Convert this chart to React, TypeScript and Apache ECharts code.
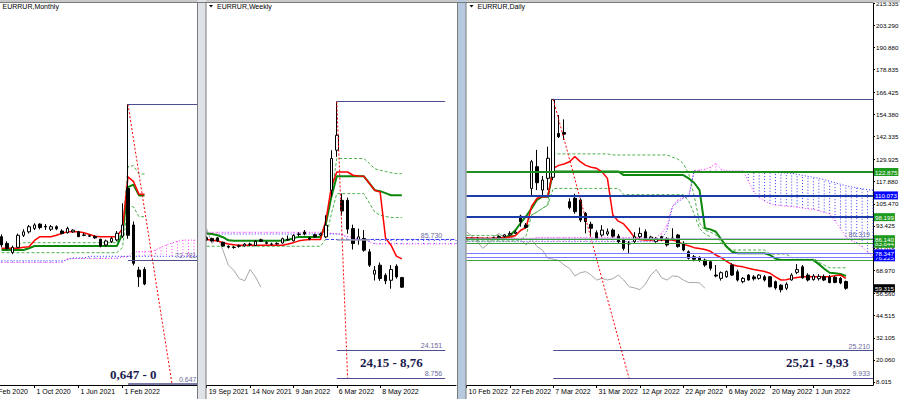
import React, { useEffect, useRef } from 'react';
import * as echarts from 'echarts';

const AX_FONT = "'Liberation Sans', Arial, sans-serif";
const SERIF = "'Liberation Serif', 'Times New Roman', serif";

// ================= MONTHLY =================
const monthlyDates = ['1 Feb 2020', '1 Mar 2020', '1 Apr 2020', '1 May 2020', '1 Jun 2020', '1 Jul 2020', '1 Aug 2020', '1 Sep 2020', '1 Oct 2020', '1 Nov 2020', '1 Dec 2020', '1 Jan 2021', '1 Feb 2021', '1 Mar 2021', '1 Apr 2021', '1 May 2021', '1 Jun 2021', '1 Jul 2021', '1 Aug 2021', '1 Sep 2021', '1 Oct 2021', '1 Nov 2021', '1 Dec 2021', '1 Jan 2022', '1 Feb 2022', '1 Mar 2022', '1 Apr 2022', '1 May 2022', '1 Jun 2022'];
const MONTH_SLOTS = 39;
// [open, close, low, high]
const monthlyCandles: any[] = ['-', '-',
  [86.2, 81.4, 80.0, 87.5], [82.3, 79.4, 78.5, 83.5], [77.0, 80.0, 76.0, 81.0], [80.0, 87.0, 79.5, 88.0],
  [87.0, 89.0, 86.0, 90.5], [89.0, 92.0, 88.0, 93.0], [91.0, 93.0, 90.0, 94.0], [93.5, 91.5, 90.5, 94.0],
  [92.2, 91.8, 90.1, 93.5], [90.5, 92.0, 89.5, 93.0], [92.0, 90.8, 90.0, 92.8], [89.5, 88.0, 87.5, 90.5],
  [88.5, 91.0, 88.0, 92.0], [89.0, 90.0, 88.5, 90.5], [89.0, 86.2, 86.0, 89.5], [87.2, 87.0, 86.5, 88.5],
  [86.7, 86.5, 86.0, 87.5], [86.4, 85.5, 85.0, 87.0], [84.7, 80.8, 80.0, 85.0], [81.4, 83.7, 80.5, 84.5],
  [83.3, 85.2, 82.5, 86.0], [84.3, 88.2, 83.5, 89.5], [86.5, 93.0, 85.5, 105.6], [114.3, 87.0, 85.0, 163.1],
  [93.0, 70.7, 69.5, 95.0], [66.8, 62.9, 57.0, 68.7], [67.2, 58.7, 58.0, 68.5]];
const monthlyTenkan = [null, null, 79.5, 79.5, 79.5, 79.5, 80.0, 80.4, 84.0, 86.2, 86.2, 86.2, 87.0, 88.1, 89.1, 89.1, 89.1, 88.5, 87.5, 86.5, 86.2, 86.2, 86.2, 86.2, 91.0, 121.0, 118.2, 110.8, 110.8];
const monthlyKijun = [null, null, 78.5, 78.5, 78.5, 78.5, 78.5, 79.5, 80.8, 80.8, 80.8, 80.8, 80.8, 80.8, 80.8, 80.8, 80.8, 80.8, 80.8, 80.8, 80.8, 80.8, 80.8, 80.8, 88.0, 115.0, 116.4, 110.2, 110.2];
const monthlyUpper = [null, null, null, null, null, 81.5, 82.7, 82.7, 82.7, 82.7, 82.7, 82.7, 82.7, 82.7, 82.7, 82.7, 82.7, 82.7, 82.7, 82.7, 82.7, 82.7, 82.7, 82.7, 90.0, 126.9, 127.5, 122.6, 122.6];
const monthlyLower = [null, null, 76.9, 76.9, 76.9, 76.9, 76.9, 76.9, 76.9, 76.9, 76.9, 76.9, 76.9, 76.9, 76.9, 76.9, 76.9, 76.9, 76.9, 76.9, 76.9, 76.9, 76.9, 76.9, 80.0, 104.6, 103.5, 97.8, 97.8];
const monthlySpanA = [null, null, 71.2, 71.2, 71.2, 71.2, 71.2, 71.2, 71.2, 71.2, 71.2, 71.2, 71.2, 71.2, 73.5, 73.5, 73.5, 73.5, 73.5, 73.5, 73.5, 73.5, 73.5, 73.5, 74.5, 74.5, 77.5, 77.5, 77.5, 77.5, 78.5, 80.0, 81.5, 82.5, 83.5, 84.2, 84.2, 84.2, 84.2];
const monthlySpanB = [null, null, 72.2, 72.2, 72.2, 72.2, 72.2, 72.2, 72.2, 72.2, 72.2, 72.2, 72.2, 72.2, 72.8, 73.8, 73.8, 73.8, 74.8, 74.8, 74.8, 74.8, 74.8, 74.8, 74.8, 74.8, 74.8, 74.8, 74.8, 74.8, 74.8, 74.8, 74.8, 74.8, 74.8, 74.8, 74.8, 74.8, 74.8];
const monthlyHigh = 163.1;
const monthlyLevels = [72.781, 0.647];

// ================= WEEKLY =================
const weeklyDates = ['19 Sep 2021', '26 Sep 2021', '3 Oct 2021', '10 Oct 2021', '17 Oct 2021', '24 Oct 2021', '31 Oct 2021', '7 Nov 2021', '14 Nov 2021', '21 Nov 2021', '28 Nov 2021', '5 Dec 2021', '12 Dec 2021', '19 Dec 2021', '26 Dec 2021', '2 Jan 2022', '9 Jan 2022', '16 Jan 2022', '23 Jan 2022', '30 Jan 2022', '6 Feb 2022', '13 Feb 2022', '20 Feb 2022', '27 Feb 2022', '6 Mar 2022', '20 Mar 2022', '27 Mar 2022', '3 Apr 2022', '10 Apr 2022', '17 Apr 2022', '24 Apr 2022', '1 May 2022', '8 May 2022', '15 May 2022', '22 May 2022', '29 May 2022', '5 Jun 2022'];
const WEEK_SLOTS = 47;
const weeklyCandles = [
  [86.8, 85.5, 85.0, 87.5], [86.3, 84.9, 84.5, 86.8], [86.6, 84.9, 84.3, 87.0], [84.2, 82.2, 81.8, 84.6],
  [81.8, 81.5, 80.8, 82.5], [81.4, 81.3, 80.6, 82.2], [82.0, 82.2, 81.2, 83.0], [82.2, 83.2, 81.8, 83.8],
  [83.0, 83.2, 82.2, 84.0], [82.4, 84.8, 82.0, 85.3], [85.6, 84.8, 84.4, 86.2], [84.0, 83.6, 83.0, 84.8],
  [83.2, 83.1, 82.4, 84.0], [83.3, 83.6, 82.8, 84.2], [83.8, 86.2, 83.4, 86.8], [85.6, 85.8, 85.0, 88.0],
  [85.0, 88.0, 84.6, 88.6], [88.5, 88.7, 87.6, 89.8], [89.9, 88.8, 88.0, 91.0], [86.4, 86.0, 85.3, 87.3],
  [88.4, 87.2, 86.8, 89.0], [88.2, 88.9, 87.8, 89.5], [87.2, 93.7, 86.5, 99.2], [113.1, 130.7, 109.4, 135.3],
  [135.3, 143.6, 131.6, 162.3], [107.5, 101.6, 99.0, 111.2], [107.5, 91.5, 89.0, 109.0], [91.8, 83.5, 80.2, 94.0],
  [85.5, 87.2, 82.9, 91.8], [86.3, 79.8, 79.0, 91.0], [78.9, 71.5, 70.5, 80.5], [66.5, 68.7, 63.0, 71.0],
  [71.5, 64.1, 62.8, 73.0], [65.9, 62.8, 61.0, 67.0], [63.1, 69.1, 58.4, 71.5], [70.9, 65.0, 64.0, 72.0],
  [64.6, 59.3, 58.8, 65.0]];
const weeklyTenkan = [85.7, 85.3, 84.9, 84.0, 83.2, 82.8, 82.6, 82.6, 82.6, 82.6, 82.6, 82.6, 82.6, 82.6, 82.6, 83.2, 84.0, 85.0, 85.5, 85.7, 85.7, 85.7, 96.4, 114.9, 123.2, 123.2, 123.2, 121.4, 121.0, 120.8, 117.0, 113.1, 112.1, 86.5, 82.6, 76.5, 75.0];
const weeklyKijun = [89.1, 88.8, 88.1, 87.0, 85.3, 85.0, 85.0, 85.0, 85.0, 85.0, 85.0, 85.0, 85.0, 85.0, 85.0, 85.5, 86.5, 87.2, 87.2, 87.2, 87.2, 87.2, 94.6, 109.4, 120.8, 120.8, 120.8, 120.8, 120.8, 120.8, 117.0, 113.1, 112.6, 111.5, 110.3, 110.3, 110.3];
const weeklyUpper = [null, null, null, null, null, null, null, null, null, null, null, null, null, null, null, null, null, null, null, null, null, null, null, 110.0, 130.7, 130.7, 130.7, 130.7, 130.7, 130.7, 128.0, 125.0, 124.2, 123.5, 122.8, 122.3, 122.3];
const weeklyLower = [82.0, 82.0, 82.0, 82.0, 82.0, 82.0, 82.0, 82.0, 82.0, 82.0, 82.0, 82.0, 82.0, 82.0, 82.0, 82.0, 82.0, 82.0, 82.0, 82.0, 82.0, 82.0, 86.0, 100.0, 111.2, 111.2, 111.2, 111.2, 111.2, 111.2, 106.0, 101.0, 99.2, 98.5, 98.0, 97.9, 97.9];
const weeklySpanA = [89.8, 89.8, 89.8, 89.8, 89.8, 89.8, 89.8, 89.8, 89.8, 89.8, 89.8, 89.8, 89.8, 89.8, 89.8, 89.8, 89.8, 89.8, 89.8, 89.8, 89.8, 89.8, 89.5, 89.2, 89.0, 88.2, 87.5, 86.7, 86.0, 85.7, 84.5, 83.3, 83.3, 83.3, 83.3, 83.3, 83.3, 83.3, 83.3, 83.3, 83.3, 83.3, 83.3, 83.3, 83.3, 83.3, 83.3];
const weeklySpanB = [88.8, 88.8, 88.8, 88.8, 88.8, 88.8, 88.8, 88.8, 88.8, 88.8, 88.8, 88.8, 88.8, 88.8, 88.8, 88.8, 88.8, 88.8, 88.8, 88.8, 88.8, 88.8, 88.8, 88.8, 88.8, 88.8, 85.8, 85.8, 85.8, 85.8, 85.8, 85.8, 85.8, 85.8, 85.8, 85.8, 85.8, 85.8, 85.8, 85.8, 85.8, 85.8, 85.8, 85.8, 85.8, 85.8, 85.8];
const weeklyHigh = 162.3;
const weeklyLevels = [85.73, 24.151, 8.756];

// ================= DAILY =================
const dailyDates = ['10 Feb 2022', '11 Feb 2022', '14 Feb 2022', '15 Feb 2022', '16 Feb 2022', '17 Feb 2022', '18 Feb 2022', '21 Feb 2022', '22 Feb 2022', '24 Feb 2022', '25 Feb 2022', '28 Feb 2022', '1 Mar 2022', '2 Mar 2022', '3 Mar 2022', '4 Mar 2022', '7 Mar 2022', '9 Mar 2022', '10 Mar 2022', '14 Mar 2022', '18 Mar 2022', '23 Mar 2022', '28 Mar 2022', '30 Mar 2022', '31 Mar 2022', '1 Apr 2022', '4 Apr 2022', '5 Apr 2022', '6 Apr 2022', '7 Apr 2022', '8 Apr 2022', '11 Apr 2022', '12 Apr 2022', '13 Apr 2022', '14 Apr 2022', '15 Apr 2022', '18 Apr 2022', '19 Apr 2022', '20 Apr 2022', '21 Apr 2022', '22 Apr 2022', '25 Apr 2022', '26 Apr 2022', '27 Apr 2022', '28 Apr 2022', '29 Apr 2022', '4 May 2022', '5 May 2022', '6 May 2022', '11 May 2022', '12 May 2022', '13 May 2022', '16 May 2022', '17 May 2022', '18 May 2022', '19 May 2022', '20 May 2022', '23 May 2022', '24 May 2022', '25 May 2022', '26 May 2022', '27 May 2022', '30 May 2022', '31 May 2022', '1 Jun 2022', '2 Jun 2022', '3 Jun 2022', '6 Jun 2022', '7 Jun 2022', '8 Jun 2022', '9 Jun 2022'];
const DAY_SLOTS = 76;
const dailyCandles = [
  [86.8, 86.2, 85.8, 87.3], [86.2, 86.6, 85.6, 87.0], [86.6, 86.0, 85.5, 87.4], [86.0, 86.5, 85.7, 87.0],
  [86.5, 86.3, 85.9, 87.2], [86.3, 86.9, 85.9, 87.5], [86.9, 87.6, 86.5, 88.2], [87.6, 88.5, 87.0, 89.0],
  [88.5, 89.3, 88.0, 90.5], [89.3, 90.0, 88.8, 91.0], [98.8, 95.7, 93.0, 99.5], [93.9, 92.6, 92.0, 95.0],
  [113.9, 128.5, 109.5, 129.5], [125.8, 117.0, 113.0, 135.0], [113.0, 118.5, 110.3, 120.7], [119.4, 130.4, 113.0, 136.7],
  [120.0, 162.6, 118.5, 162.6], [144.0, 142.2, 141.5, 154.0], [144.5, 143.6, 140.4, 151.7], [106.6, 103.5, 102.5, 108.5],
  [108.5, 101.2, 100.0, 111.0], [107.6, 96.6, 95.5, 108.5], [100.3, 95.7, 89.3, 101.0], [94.3, 92.1, 87.5, 95.7],
  [89.7, 86.6, 86.0, 91.0], [88.4, 91.1, 87.5, 93.8], [89.0, 90.2, 88.0, 92.0], [91.1, 87.8, 87.0, 92.0],
  [87.8, 84.8, 84.0, 89.0], [85.6, 81.1, 80.0, 86.5], [84.0, 83.5, 78.0, 85.0], [84.8, 87.5, 83.5, 90.0],
  [87.5, 89.3, 86.0, 92.5], [90.2, 86.6, 86.0, 91.5], [86.0, 87.3, 85.5, 88.0], [84.8, 86.6, 84.2, 87.2],
  [87.5, 85.7, 85.0, 88.0], [86.6, 83.0, 82.1, 87.2], [86.8, 86.3, 85.5, 92.1], [88.4, 82.1, 81.5, 89.0],
  [83.9, 80.2, 79.5, 85.0], [79.3, 75.7, 75.0, 80.0], [76.5, 75.2, 74.0, 77.5], [76.2, 74.5, 73.8, 76.8],
  [74.7, 72.0, 71.0, 75.5], [73.8, 70.2, 69.0, 74.5], [66.5, 66.0, 65.3, 72.0], [64.7, 67.8, 63.5, 68.5],
  [65.6, 68.4, 65.0, 69.0], [72.0, 66.5, 66.0, 73.0], [68.3, 63.8, 63.0, 69.5], [62.9, 64.7, 62.0, 65.5],
  [66.5, 63.8, 63.5, 67.0], [65.5, 64.5, 63.5, 66.5], [64.7, 66.5, 64.0, 67.0], [65.6, 63.8, 63.0, 66.5],
  [65.6, 60.1, 59.8, 66.0], [62.9, 59.5, 58.5, 63.5], [61.0, 58.5, 57.0, 61.5], [59.3, 61.5, 58.3, 62.5],
  [63.8, 66.5, 63.5, 67.5], [68.0, 69.5, 67.0, 72.5], [71.0, 65.0, 64.5, 72.0], [66.5, 63.8, 63.0, 67.5],
  [64.0, 66.0, 63.5, 67.0], [64.5, 65.8, 63.5, 67.0], [65.6, 63.8, 63.2, 66.8], [65.3, 62.4, 62.0, 66.5],
  [65.3, 62.5, 62.0, 66.0], [64.7, 62.2, 61.5, 65.5], [63.0, 59.3, 58.5, 63.5]];
const dailyTenkan = [86.8, 86.8, 86.8, 86.6, 86.6, 86.6, 86.9, 87.0, 87.3, 88.0, 91.0, 92.5, 104.0, 108.5, 109.4, 109.4, 124.9, 126.5, 127.3, 128.5, 131.3, 128.5, 126.5, 125.5, 124.9, 123.0, 119.4, 99.3, 96.0, 94.5, 91.0, 87.0, 86.0, 85.7, 85.7, 85.7, 85.7, 85.7, 85.7, 84.8, 83.3, 82.5, 81.5, 81.0, 80.5, 79.5, 77.5, 76.0, 74.0, 72.2, 71.5, 71.0, 70.2, 69.5, 69.0, 68.5, 67.5, 65.5, 63.8, 64.0, 64.7, 65.2, 65.6, 65.6, 65.6, 65.6, 65.6, 65.6, 66.2, 66.5, 64.7];
const dailyKijun = [86.3, 86.3, 86.3, 86.3, 86.3, 86.3, 86.3, 86.8, 88.0, 91.0, 95.0, 98.7, 103.0, 107.6, 109.4, 109.4, 123.2, 123.2, 123.2, 123.2, 123.2, 123.2, 123.2, 123.2, 123.2, 123.2, 123.2, 123.2, 123.2, 121.2, 121.2, 121.2, 121.2, 121.2, 121.2, 121.2, 121.2, 121.2, 121.2, 121.2, 121.2, 119.4, 117.0, 113.0, 92.1, 91.5, 90.2, 86.0, 82.0, 79.3, 78.4, 78.4, 78.4, 78.4, 78.4, 78.4, 77.5, 75.5, 74.7, 74.7, 74.7, 74.7, 74.7, 74.7, 74.7, 72.5, 70.0, 67.8, 67.5, 67.1, 66.0];
const dailyUpper = [88.2, 88.2, 88.2, 88.2, 88.2, 88.2, 88.2, 88.2, 88.2, 88.2, 90.5, 94.0, 99.3, 101.0, 103.0, 104.8, 132.8, 132.8, 132.8, 132.8, 132.8, 132.8, 132.8, 132.8, 132.8, 132.8, 132.8, 132.2, 132.2, 132.2, 132.2, 132.2, 132.2, 132.2, 132.2, 132.2, 132.2, 132.2, 131.0, 130.0, 127.5, 122.0, 110.0, 95.0, 91.0, 90.0, 88.5, 84.0, 81.5, 80.2, 80.2, 80.2, 80.2, 80.2, 80.2, 80.2, 78.0, 78.0, 78.0, 78.0, 76.0, 76.0, 76.0, 76.0, 76.0, 73.5, 72.0, 70.5, 70.5, 70.5, 70.5];
const dailyLower = [85.2, 85.2, 85.2, 85.2, 85.2, 85.2, 85.2, 85.2, 85.2, 85.2, 86.0, 88.0, 99.3, 101.0, 103.0, 104.8, 113.9, 113.9, 113.9, 113.9, 113.9, 113.9, 113.9, 113.9, 113.9, 113.9, 113.9, 113.9, 113.9, 110.5, 110.5, 110.5, 110.5, 110.5, 110.5, 110.5, 110.5, 110.5, 110.5, 110.5, 110.5, 107.0, 100.0, 92.0, 89.0, 87.5, null, null, null, null, null, null, null, null, null, null, null, null, null, null, null, null, null, null, null, null, null, null, null, null, null];
const dailySpanA = [86.6, 86.6, 86.6, 86.6, 86.6, 86.6, 86.6, 86.6, 86.6, 86.6, 86.6, 86.6, 86.6, 87.1, 87.1, 87.1, 87.1, 87.1, 87.1, 87.1, 87.1, 87.1, 87.1, 87.1, 87.1, 87.1, 87.1, 87.1, 87.1, 87.1, 87.1, 87.1, 87.1, 87.1, 87.1, 87.1, 89.3, 93.9, 104.0, 107.6, 109.0, 109.4, 123.6, 124.0, 124.4, 125.5, 127.6, 124.4, 123.5, 123.5, 123.5, 123.5, 118.0, 112.0, 109.0, 107.0, 105.5, 104.8, 104.5, 104.2, 104.0, 103.6, 103.2, 102.8, 102.5, 101.7, 100.8, 100.0, 96.0, 92.0, 87.5, 85.5, 84.0, 82.0, 79.0, 76.5];
const dailySpanB = [84.8, 84.8, 84.8, 84.8, 84.8, 84.8, 84.8, 84.8, 84.8, 84.8, 84.8, 84.8, 84.8, 84.8, 84.8, 84.8, 84.8, 84.8, 84.8, 84.8, 84.8, 84.8, 84.8, 84.8, 84.8, 84.8, 84.8, 84.8, 84.8, 84.8, 84.8, 84.8, 84.8, 84.8, 84.8, 84.8, 86.0, 91.0, 104.0, 106.5, 108.5, 109.4, 123.5, 123.2, 123.2, 123.2, 123.2, 123.2, 123.2, 123.2, 123.2, 123.2, 123.0, 122.9, 122.8, 122.7, 122.6, 122.5, 122.4, 122.3, 122.2, 121.6, 121.0, 120.5, 120.0, 119.4, 118.7, 117.8, 117.0, 116.2, 115.3, 114.8, 114.2, 113.7, 113.2, 113.0];
const dailyHigh = 162.6;
const dailyFibo = [25.21, 9.933];
const dailyPriceTicks = [215.335, 203.29, 190.88, 178.835, 166.425, 154.38, 142.335, 129.925, 117.88, 105.47, 93.425, 81.015, 68.97, 56.56, 44.515, 32.105, 20.06, 8.015];
const dailyLastPrice = 59.315;

// ================= helpers =================
const padCats = (a: string[], n: number) => a.concat(Array.from({ length: n - a.length }, (_, i) => 'f' + i));
const chikou = (c: any[], shift: number) => c.map((_, j) => (c[j + shift] ? c[j + shift][1] : null));

const lineS = (k: number, data: any[], color: string, width: number, type: any = 'solid', z = 2) => ({
  type: 'line', xAxisIndex: k, yAxisIndex: k, data, symbol: 'none', showSymbol: false, silent: true,
  lineStyle: { color, width, type }, z, connectNulls: false, animation: false,
});

const hatch = (k: number, A: any[], B: any[]) => ({
  type: 'custom', xAxisIndex: k, yAxisIndex: k, silent: true, z: 1, animation: false,
  data: A.map((a, i) => [i, a, B[i]]).filter((d) => d[1] != null && d[2] != null),
  renderItem: (_p: any, api: any) => {
    const i = api.value(0), a = api.value(1), b = api.value(2);
    const p1 = api.coord([i, a]);
    const p2 = api.coord([i, b]);
    return {
      type: 'line', shape: { x1: p1[0], y1: p1[1], x2: p2[0], y2: p2[1] },
      style: { stroke: b > a ? '#3a3aff' : '#ff4dff', lineWidth: 1, lineDash: [1, 2] },
    };
  },
});

const hLine = (from: number, to: number, v: number, color: string, width: number, label?: any, type: any = 'solid') => {
  const ls = { color, width, type };
  const lb = label ? { show: true, ...label } : { show: false };
  return [{ coord: [from, v], lineStyle: ls, label: lb }, { coord: [to, v], lineStyle: ls, label: lb }];
};
const boxLabel = (text: string, bg: string) => ({
  position: 'end', formatter: text, backgroundColor: bg, color: '#fff', fontSize: 6.2, fontFamily: AX_FONT,
  padding: [1, 1, 0, 1], distance: 1, lineHeight: 7,
});
const innerLabel = (text: string) => ({
  position: 'insideEndTop', formatter: text, color: '#6b6b9c', fontSize: 7, fontFamily: AX_FONT, distance: 1,
  padding: [0, 2, 0, 0],
});

const candleS = (k: number, data: any[], markData: any[]) => ({
  type: 'candlestick', xAxisIndex: k, yAxisIndex: k, data, barWidth: 3, silent: true, z: 3, animation: false,
  itemStyle: { color: '#ffffff', color0: '#000000', borderColor: '#000000', borderColor0: '#000000', borderWidth: 1 },
  markLine: { symbol: ['none', 'none'], silent: true, animation: false, emphasis: { disabled: true }, data: markData },
});

const mkX = (gridIndex: number, cats: string[], n: number) => {
  const show = (i: number) => i % 8 === 0 && i < n;
  return {
    type: 'category', gridIndex, data: cats, boundaryGap: false,
    axisLine: { show: true, lineStyle: { color: '#000', width: 1 } },
    axisTick: { show: true, interval: (i: number) => show(i), length: 3, lineStyle: { color: '#000' } },
    axisLabel: {
      show: true, interval: (i: number) => show(i), align: 'left', margin: 3, padding: [0, 0, 0, 2],
      fontSize: 7, color: '#000', fontFamily: AX_FONT, hideOverlap: false,
    },
    splitLine: { show: false },
  };
};

function buildOption() {
  const SLATE = '#4c4c8e';
  const monthlyMarks = [
    hLine(25, 38, monthlyHigh, SLATE, 1),
    hLine(25, 38, monthlyLevels[0], SLATE, 1, innerLabel('72.781')),
    hLine(25, 38, monthlyLevels[1], SLATE, 1.5, innerLabel('0.647')),
  ];
  const weeklyMarks = [
    hLine(24, 44, weeklyHigh, SLATE, 1),
    hLine(22, 46, weeklyLevels[0], '#3a3aff', 1, undefined, [3, 2]),
    hLine(24, 30, weeklyLevels[0], '#a0a0b0', 1.5),
    hLine(24, 44, weeklyLevels[0], 'rgba(0,0,0,0)', 1, innerLabel('85.730')),
    hLine(24, 44, weeklyLevels[1], SLATE, 1, innerLabel('24.151')),
    hLine(24, 44, weeklyLevels[2], SLATE, 1, innerLabel('8.756')),
  ];
  const GREEN = '#1e9a1e';
  const BLUE = '#0000ff';
  const dailyMarks = [
    hLine(16, 75, dailyHigh, SLATE, 1),
    hLine(16, 75, dailyFibo[0], SLATE, 1, innerLabel('25.210')),
    hLine(16, 75, dailyFibo[1], SLATE, 1, innerLabel('9.933')),
    hLine(0, 75, 122.875, '#1e8f1e', 2, boxLabel('122.875', GREEN)),
    hLine(0, 75, 110.073, '#1c3ca8', 2, boxLabel('110.073', BLUE)),
    hLine(0, 75, 98.199, '#1c3ca8', 2, boxLabel('98.199', GREEN)),
    hLine(0, 75, 86.319, '#a8a8cc', 1.5, innerLabel('86.319')),
    hLine(0, 75, 83.644, '#3aa03a', 1, boxLabel('83.644', GREEN)),
    hLine(0, 75, 86.14, '#3aa03a', 1, boxLabel('86.140', GREEN)),
    hLine(0, 75, 74.7, '#3aa03a', 1),
    hLine(0, 75, 76.225, '#7a7aff', 1, boxLabel('76.225', BLUE)),
    hLine(0, 75, 78.347, '#7a7aff', 1, boxLabel('78.347', BLUE)),
    hLine(70, 75, dailyLastPrice, 'rgba(0,0,0,0)', 1, boxLabel('59.315', '#000')),
  ];

  const RED = '#ff0000';
  const KG = '#0b870b';
  const DG = '#4cb04c';
  const PINK = '#ff33ff';
  const SB = '#3030ff';
  const GRAY = '#a6a6a6';

  const series: any[] = [
    // monthly
    hatch(0, monthlySpanA, monthlySpanB),
    lineS(0, monthlySpanA, PINK, 1, [1, 2]),
    lineS(0, monthlySpanB, SB, 1, [1, 2]),
    lineS(0, monthlyUpper, DG, 1, [3, 2]),
    lineS(0, monthlyLower, DG, 1, [3, 2]),
    lineS(0, monthlyKijun, KG, 2),
    lineS(0, monthlyTenkan, RED, 1.5),
    candleS(0, monthlyCandles, monthlyMarks),
    lineS(0, [[25, monthlyHigh], [33, monthlyLevels[1]]], RED, 1, [2, 2], 4),
    // weekly
    hatch(1, weeklySpanA, weeklySpanB),
    lineS(1, weeklySpanA, PINK, 1, [1, 2]),
    lineS(1, weeklySpanB, SB, 1, [1, 2]),
    lineS(1, chikou(weeklyCandles, 26), GRAY, 1),
    lineS(1, weeklyUpper, DG, 1, [3, 2]),
    lineS(1, weeklyLower, DG, 1, [3, 2]),
    lineS(1, weeklyKijun, KG, 2),
    lineS(1, weeklyTenkan, RED, 1.5),
    candleS(1, weeklyCandles, weeklyMarks),
    lineS(1, [[24, weeklyHigh], [26, weeklyLevels[2]]], RED, 1, [2, 2], 4),
    // daily
    hatch(2, dailySpanA, dailySpanB),
    lineS(2, dailySpanA, PINK, 1, [1, 2]),
    lineS(2, dailySpanB, SB, 1, [1, 2]),
    lineS(2, chikou(dailyCandles, 26), GRAY, 1),
    lineS(2, dailyUpper, DG, 1, [3, 2]),
    lineS(2, dailyLower, DG, 1, [3, 2]),
    lineS(2, dailyKijun, KG, 2),
    lineS(2, dailyTenkan, RED, 1.5),
    candleS(2, dailyCandles, dailyMarks),
    lineS(2, [[16, dailyHigh], [30, dailyFibo[1]]], RED, 1, [2, 2], 4),
  ];

  const frame = '#7a7a7a';
  const txt = (x: number, y: number, text: string, extra: any = {}) => ({
    type: 'text', x, y, z: 120, silent: true,
    style: { text, fontSize: 7, fontFamily: AX_FONT, fill: '#000', verticalAlign: 'middle', textVerticalAlign: 'middle', ...extra },
  });
  const bigTxt = (x: number, y: number, text: string) => txt(x, y, text, { fontSize: 13, fontWeight: 'bold', fontFamily: SERIF, fill: '#1b1b4f' });

  const graphic = [
    { type: 'rect', z: 100, silent: true, shape: { x: 0, y: 0, width: 900, height: 2.5 }, style: { fill: '#c9c9c9' } },
    { type: 'rect', z: 100, silent: true, shape: { x: 197.5, y: 0, width: 8.5, height: 399 }, style: { fill: '#dfe3e8' } },
    { type: 'rect', z: 100, silent: true, shape: { x: 457.5, y: 0, width: 8.5, height: 399 }, style: { fill: '#b6c9df' } },
    { type: 'line', z: 101, silent: true, shape: { x1: 0, y1: 2.5, x2: 873, y2: 2.5 }, style: { stroke: frame, lineWidth: 1 } },
    { type: 'line', z: 101, silent: true, shape: { x1: 197.5, y1: 2.5, x2: 197.5, y2: 399 }, style: { stroke: frame, lineWidth: 1 } },
    { type: 'line', z: 101, silent: true, shape: { x1: 206, y1: 2.5, x2: 206, y2: 399 }, style: { stroke: frame, lineWidth: 1 } },
    { type: 'line', z: 101, silent: true, shape: { x1: 457.5, y1: 2.5, x2: 457.5, y2: 399 }, style: { stroke: frame, lineWidth: 1 } },
    { type: 'line', z: 101, silent: true, shape: { x1: 466, y1: 2.5, x2: 466, y2: 399 }, style: { stroke: frame, lineWidth: 1 } },
    txt(2.5, 6.5, 'EURRUR,Monthly'),
    { type: 'polygon', z: 120, silent: true, shape: { points: [[209, 5], [213, 5], [211, 7.5]] }, style: { fill: '#000' } },
    txt(217, 6.5, 'EURRUR,Weekly'),
    { type: 'polygon', z: 120, silent: true, shape: { points: [[469.5, 5], [473.5, 5], [471.5, 7.5]] }, style: { fill: '#000' } },
    txt(477.5, 6.5, 'EURRUR,Daily'),
    bigTxt(110, 374, '0,647 - 0'),
    bigTxt(360, 362, '24,15 - 8,76'),
    bigTxt(786, 362, '25,21 - 9,93'),
  ];

  return {
    animation: false,
    backgroundColor: '#ffffff',
    grid: [
      { left: -9.5, top: 3, width: (MONTH_SLOTS - 1) * 5.5, height: 382, containLabel: false, outerBoundsMode: 'none', show: false },
      { left: 206.7, top: 3, width: (WEEK_SLOTS - 1) * 5.42, height: 382, containLabel: false, outerBoundsMode: 'none', show: false },
      { left: 466.5, top: 3, width: (DAY_SLOTS - 1) * 5.42, height: 382, containLabel: false, outerBoundsMode: 'none', show: false },
    ],
    xAxis: [
      mkX(0, padCats(monthlyDates, MONTH_SLOTS), monthlyDates.length),
      mkX(1, padCats(weeklyDates, WEEK_SLOTS), weeklyDates.length),
      mkX(2, padCats(dailyDates, DAY_SLOTS), dailyDates.length),
    ],
    yAxis: [
      { type: 'value', gridIndex: 0, min: 0, max: 222, show: false, splitLine: { show: false } },
      { type: 'value', gridIndex: 1, min: 5, max: 217, show: false, splitLine: { show: false } },
      {
        type: 'value', gridIndex: 2, min: 6.37, max: 215.335, position: 'right',
        axisLine: { show: true, lineStyle: { color: '#000' } },
        axisTick: { show: true, length: 2, customValues: dailyPriceTicks, lineStyle: { color: '#000' } },
        axisLabel: {
          show: true, customValues: dailyPriceTicks, formatter: (v: number) => v.toFixed(3),
          fontSize: 6.2, color: '#000', margin: 3, fontFamily: AX_FONT,
        },
        splitLine: { show: false },
      },
    ],
    series,
    graphic,
  };
}

export default function App() {
  const ref = useRef<HTMLDivElement>(null);
  useEffect(() => {
    const el = ref.current;
    if (!el) return;
    const chart = echarts.init(el, null, { renderer: 'svg' });
    chart.setOption(buildOption() as any);
    return () => chart.dispose();
  }, []);
  return <div ref={ref} style={{ position: 'fixed', left: 0, top: 0, width: 900, height: 399, background: '#fff' }} />;
}
